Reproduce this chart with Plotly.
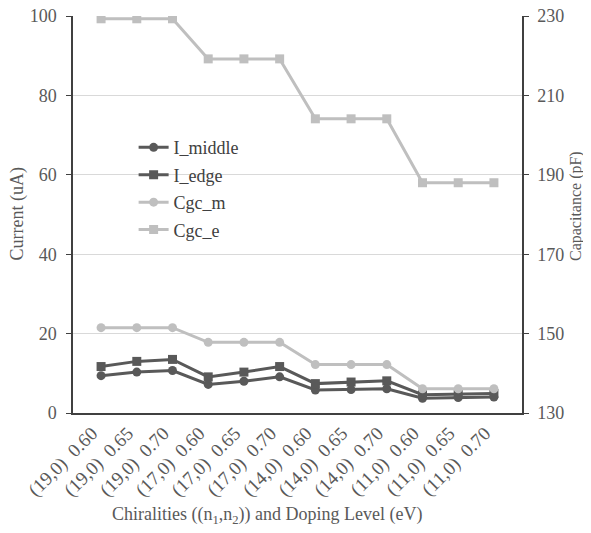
import plotly.graph_objects as go

chirality = ["(19,0)", "(19,0)", "(19,0)", "(17,0)", "(17,0)", "(17,0)",
             "(14,0)", "(14,0)", "(14,0)", "(11,0)", "(11,0)", "(11,0)"]
doping = ["0.60", "0.65", "0.70"] * 4
categories = [f"{c} {d}" for c, d in zip(chirality, doping)]
tick_labels = [f"{c}\u2002{d}" for c, d in zip(chirality, doping)]

i_middle = [9.4, 10.3, 10.7, 7.2, 8.0, 9.1, 5.8, 5.9, 6.1, 3.7, 3.9, 4.0]
i_edge = [11.7, 13.0, 13.5, 9.1, 10.3, 11.7, 7.4, 7.8, 8.1, 4.6, 4.8, 4.9]
cgc_m = [151.5, 151.5, 151.5, 147.8, 147.8, 147.8, 142.2, 142.2, 142.2, 136.1, 136.1, 136.1]
cgc_e = [229.3, 229.3, 229.3, 219.2, 219.2, 219.2, 204.1, 204.1, 204.1, 188.0, 188.0, 188.0]

x_title = "Chiralities ((n<sub>1</sub>,n<sub>2</sub>)) and Doping Level (eV)"
y_title = "Current (uA)"
y2_title = "Capacitance (pF)"

dark = "#595959"
light = "#bfbfbf"
font = "Liberation Serif"

fig = go.Figure()
fig.add_trace(go.Scatter(x=categories, y=i_middle, name="I_middle", mode="lines+markers", legendgroup="a",
                         line=dict(color=dark, width=3), marker=dict(symbol="circle", size=9, color=dark)))
fig.add_trace(go.Scatter(x=categories, y=i_edge, name="I_edge", mode="lines+markers", legendgroup="b",
                         line=dict(color=dark, width=3), marker=dict(symbol="square", size=9, color=dark)))
fig.add_trace(go.Scatter(x=categories, y=cgc_m, name="Cgc_m", mode="lines+markers", yaxis="y2", legendgroup="c",
                         line=dict(color=light, width=3), marker=dict(symbol="circle", size=9, color=light)))
fig.add_trace(go.Scatter(x=categories, y=cgc_e, name="Cgc_e", mode="lines+markers", yaxis="y2", legendgroup="d",
                         line=dict(color=light, width=3), marker=dict(symbol="square", size=9, color=light)))

fig.update_layout(
    width=583, height=525,
    margin=dict(l=65, r=69, t=8, b=120),
    paper_bgcolor="white", plot_bgcolor="white",
    font=dict(family=font, size=17, color="#595959"),
    showlegend=True,
    legend=dict(x=0.135, y=0.715, xanchor="left", yanchor="top", bgcolor="rgba(0,0,0,0)",
                font=dict(family=font, size=18, color="#404040"), itemwidth=30, tracegroupgap=1),
    xaxis=dict(type="category", tickangle=-45, showgrid=False, showline=True, linecolor="#404040",
               linewidth=1.5, ticks="", automargin=False, tickmode="array", tickvals=categories,
               ticktext=tick_labels, ticklabelshift=-9,
               tickfont=dict(family=font, size=19, color="#595959")),
    yaxis=dict(range=[0, 100], dtick=20, showgrid=True, gridcolor="#d9d9d9", gridwidth=1,
               showline=True, linecolor="#404040", linewidth=1.5, ticks="outside", ticklen=5,
               tickcolor="#404040", zeroline=False, automargin=False, ticklabelstandoff=6,
               ticklabeloverflow="allow", tickfont=dict(family=font, size=18, color="#595959")),
    yaxis2=dict(range=[130, 230], tick0=130, dtick=20, overlaying="y", side="right", showgrid=False,
                showline=True, linecolor="#404040", linewidth=1.5, ticks="outside", ticklen=5,
                tickcolor="#404040", zeroline=False, automargin=False, ticklabelstandoff=5,
                ticklabeloverflow="allow", tickfont=dict(family=font, size=18, color="#595959")),
    annotations=[
        dict(text=x_title, xref="paper", yref="paper", x=0.434, y=-0.257, showarrow=False,
             xanchor="center", yanchor="middle", font=dict(family=font, size=18, color="#595959")),
        dict(text=y_title, xref="paper", yref="paper", x=-0.124, y=0.501, showarrow=False, textangle=-90,
             xanchor="center", yanchor="middle", font=dict(family=font, size=18, color="#595959")),
        dict(text=y2_title, xref="paper", yref="paper", x=1.12, y=0.521, showarrow=False, textangle=-90,
             xanchor="center", yanchor="middle", font=dict(family=font, size=16, color="#595959")),
    ],
)

fig.write_html("out.html")
